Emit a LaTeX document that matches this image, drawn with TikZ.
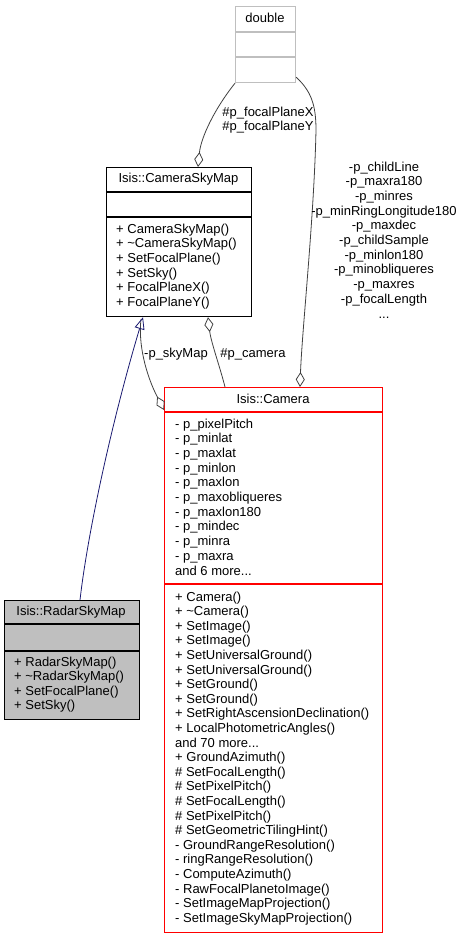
\documentclass[tikz,border=0pt]{standalone}
\usepackage{fontspec}
\setmainfont{Liberation Sans}
\usetikzlibrary{arrows.meta, calc}
\definecolor{edgeGray}{HTML}{404040}
\definecolor{inhBlue}{HTML}{191970}
\definecolor{boxGray}{HTML}{BFBFBF}
\newcommand{\moredots}{...}

\begin{document}
\begin{tikzpicture}[x=1pt, y=-1pt,
    font=\fontsize{13}{14.7}\selectfont,
    cls/.style={draw, line width=1.2pt, anchor=north west, inner sep=0pt},
    title/.style={inner sep=0pt},
    item/.style={anchor=base west, inner sep=0pt},
    lbl/.style={anchor=base, inner sep=0pt},
    agg/.style={edgeGray, line width=0.8pt, -{Diamond[open, length=15pt, width=9pt]}},
    inh/.style={inhBlue, line width=0.8pt, -{Triangle[open, length=12pt, width=10pt]}}]
    \useasboundingbox (0,0) rectangle (461,939);

    % Classes
    \node[cls, boxGray, minimum width=60, minimum height=76] (dbl) at (235,6) {};
    \draw[boxGray, line width=1.2pt] ($(dbl.north west)+(0,26)$) -- ($(dbl.north east)+(0,26)$)
        ($(dbl.north west)+(0,51)$) -- ($(dbl.north east)+(0,51)$);
    \node[title] (dbltitle) at (265,18) {double};

    \node[cls, minimum width=145, minimum height=149] (csm) at (106,167) {};
    \draw[line width=1.2pt] ($(csm.north west)+(0,25)$) -- ($(csm.north east)+(0,25)$)
        ($(csm.north west)+(0,50)$) -- ($(csm.north east)+(0,50)$);
    \node[title] (csmtitle) at (178.5,179) {Isis::CameraSkyMap};
    \foreach \t [count=\i] in {+ CameraSkyMap(), + \textasciitilde CameraSkyMap(), + SetFocalPlane(),
        + SetSky(), + FocalPlaneX(), + FocalPlaneY()}
        \node[item] (csmm\i) at (116,{233+(\i-1)*14.7}) {\t};

    \node[cls, red, minimum width=218, minimum height=545] (cam) at (164,387) {};
    \draw[red, line width=1.2pt] ($(cam.north west)+(0,25)$) -- ($(cam.north east)+(0,25)$)
        ($(cam.north west)+(0,197)$) -- ($(cam.north east)+(0,197)$);
    \node[title] (camtitle) at (273,399) {Isis::Camera};
    \foreach \t [count=\i] in {- p\_pixelPitch, - p\_minlat, - p\_maxlat, - p\_minlon, - p\_maxlon,
        - p\_maxobliqueres, - p\_maxlon180, - p\_mindec, - p\_minra, - p\_maxra, and 6 more\moredots}
        \node[item] (cama\i) at (175,{428+(\i-1)*14.7}) {\t};
    \foreach \t [count=\i] in {+ Camera(), + \textasciitilde Camera(), + SetImage(), + SetImage(),
        + SetUniversalGround(), + SetUniversalGround(), + SetGround(), + SetGround(),
        + SetRightAscensionDeclination(), + LocalPhotometricAngles(), and 70 more\moredots,
        + GroundAzimuth(), \# SetFocalLength(), \# SetPixelPitch(), \# SetFocalLength(),
        \# SetPixelPitch(), \# SetGeometricTilingHint(), - GroundRangeResolution(),
        - ringRangeResolution(), - ComputeAzimuth(), - RawFocalPlanetoImage(),
        - SetImageMapProjection(), - SetImageSkyMapProjection()}
        \node[item] (camm\i) at (175,{601+(\i-1)*14.6}) {\t};

    \node[cls, fill=boxGray, minimum width=135, minimum height=119] (rsm) at (4,600) {};
    \draw[line width=1.2pt] ($(rsm.north west)+(0,24)$) -- ($(rsm.north east)+(0,24)$)
        ($(rsm.north west)+(0,51)$) -- ($(rsm.north east)+(0,51)$);
    \node[title] (rsmtitle) at (71,612) {Isis::RadarSkyMap};
    \foreach \t [count=\i] in {+ RadarSkyMap(), + \textasciitilde RadarSkyMap(), + SetFocalPlane(), + SetSky()}
        \node[item] (rsmm\i) at (14,{666+(\i-1)*14.5}) {\t};

    % Relations
    \draw[agg] (dbl.south west) .. controls +(-20,25) and +(3,-30) .. ($(csm.north west)+(92,0)$);
    \coordinate (bend) at (316,130);
    \draw[agg] ($(dbl.south east)+(0,-6)$) .. controls +(15,14) and +(0,-25) .. (bend)
        .. controls +(-2,90) and +(2,-57) .. ($(cam.north west)+(136,0)$);
    \draw[agg] ($(cam.north west)+(61,0)$) .. controls +(-5,-20) and +(3,25) .. ($(csm.south west)+(102,0)$);
    \draw[agg] ($(csm.south west)+(35,2)$) .. controls +(-3,25) and +(-18,-35) .. ($(cam.north west)+(0,23)$);
    \draw[inh] ($(rsm.north west)+(76,0)$) .. controls +(8,-70) and +(-30,100) .. ($(csm.south west)+(37,0)$);

    % Labels
    \node[align=center, inner sep=0pt] (lblfocal) at (268,120) {\#p\_focalPlaneX\\\#p\_focalPlaneY};
    \foreach \t [count=\i] in {-p\_childLine, -p\_maxra180, -p\_minres, -p\_minRingLongitude180,
        -p\_maxdec, -p\_childSample, -p\_minlon180, -p\_minobliqueres, -p\_maxres,
        -p\_focalLength, \moredots}
        \node[lbl] (lbldbl\i) at (384,{171+(\i-1)*14.7}) {\t};
    \node[title] (lblsky) at (176,354) {-p\_skyMap};
    \node[title] (lblcam) at (253,354) {\#p\_camera};
\end{tikzpicture}
\end{document}
